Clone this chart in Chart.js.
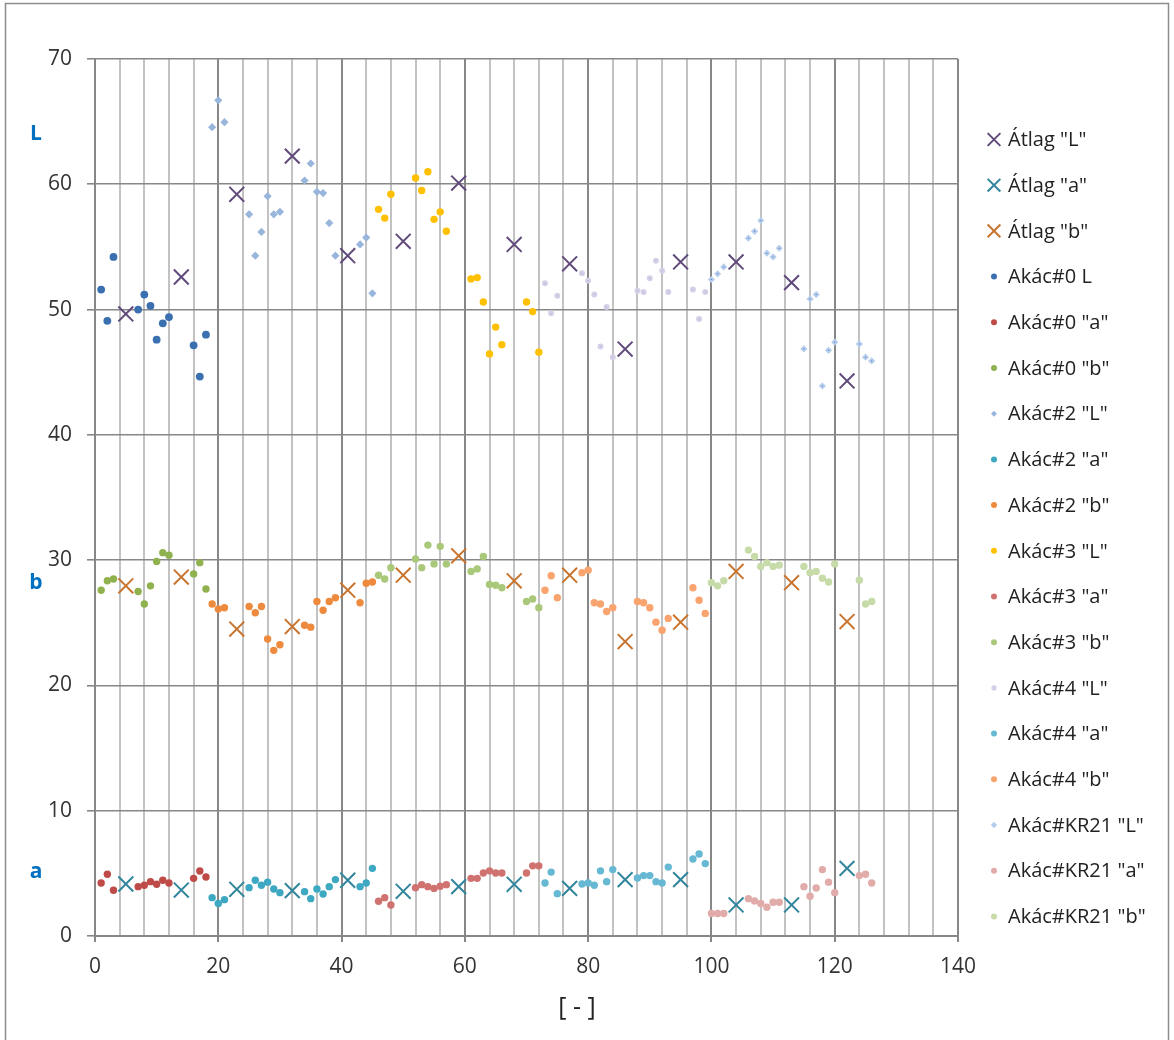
<!DOCTYPE html>
<html>
<head>
<meta charset="utf-8">
<script src="https://cdn.jsdelivr.net/npm/chart.js@4.4.1/dist/chart.umd.min.js"></script>
<style>
  html, body { margin: 0; padding: 0; background: #fff; }
  #graph { display: block; }
</style>
</head>
<body>
<canvas id="graph" width="1174" height="1040"></canvas>
<script>
// x positions (sample index) of each group
const xAtlag = [5, 14, 23, 32, 41, 50, 59, 68, 77, 86, 95, 104, 113, 122];
const xAkac0 = [1, 2, 3, 7, 8, 9, 10, 11, 12, 16, 17, 18];
const xAkac2 = [19, 20, 21, 25, 26, 27, 28, 29, 30, 34, 35, 36, 37, 38, 39, 43, 44, 45];
const xAkac3 = [46, 47, 48, 52, 53, 54, 55, 56, 57, 61, 62, 63, 64, 65, 66, 70, 71, 72];
const xAkac4 = [73, 74, 75, 79, 80, 81, 82, 83, 84, 88, 89, 90, 91, 92, 93, 97, 98, 99];
const xKR21  = [100, 101, 102, 106, 107, 108, 109, 110, 111, 115, 116, 117, 118, 119, 120, 124, 125, 126];

// averages
const atlagL = [49.65, 52.6, 59.2, 62.25, 54.3, 55.45, 60.1, 55.2, 53.65, 46.85, 53.8, 53.8, 52.15, 44.3];
const atlagA = [4.15, 3.67, 3.73, 3.62, 4.45, 3.57, 3.94, 4.13, 3.8, 4.5, 4.5, 2.48, 2.48, 5.4];
const atlagB = [27.95, 28.65, 24.5, 24.7, 27.6, 28.8, 30.35, 28.35, 28.8, 23.5, 25.05, 29.1, 28.2, 25.1];

// Akác#0
const akac0L = [51.6, 49.1, 54.2, 50.0, 51.2, 50.3, 47.6, 48.9, 49.4, 47.15, 44.65, 48.0];
const akac0A = [4.23, 4.93, 3.65, 3.94, 4.05, 4.34, 4.13, 4.45, 4.23, 4.6, 5.19, 4.71];
const akac0B = [27.6, 28.35, 28.5, 27.5, 26.5, 27.95, 29.9, 30.6, 30.4, 28.9, 29.8, 27.7];

// Akác#2
const akac2L = [64.56, 66.7, 64.96, 57.6, 54.3, 56.2, 59.05, 57.6, 57.8, 60.3, 61.66, 59.4, 59.3, 56.9, 54.3, 55.2, 55.75, 51.3];
const akac2A = [3.06, 2.6, 2.9, 3.86, 4.45, 4.05, 4.3, 3.75, 3.46, 3.54, 2.98, 3.75, 3.35, 3.94, 4.5, 3.94, 4.23, 5.4];
const akac2B = [26.5, 26.1, 26.2, 26.3, 25.8, 26.3, 23.7, 22.8, 23.25, 24.8, 24.65, 26.7, 26.0, 26.7, 27.0, 26.6, 28.15, 28.25];

// Akác#3
const akac3L = [58.0, 57.3, 59.2, 60.5, 59.5, 61.0, 57.2, 57.8, 56.25, 52.45, 52.55, 50.6, 46.46, 48.6, 47.2, 50.6, 49.84, 46.6];
const akac3A = [2.77, 3.06, 2.48, 3.86, 4.1, 3.94, 3.8, 3.97, 4.1, 4.6, 4.6, 5.03, 5.2, 5.03, 5.03, 5.03, 5.6, 5.6];
const akac3B = [28.8, 28.5, 29.4, 30.1, 29.4, 31.2, 29.7, 31.1, 29.7, 29.1, 29.3, 30.3, 28.06, 28.0, 27.8, 26.7, 26.9, 26.2];

// Akác#4
const akac4L = [52.1, 49.7, 51.1, 52.9, 52.3, 51.2, 47.05, 50.2, 46.2, 51.5, 51.4, 52.5, 53.9, 53.1, 51.4, 51.6, 49.25, 51.4];
const akac4A = [4.23, 5.1, 3.38, 4.15, 4.23, 4.05, 5.2, 4.34, 5.3, 4.63, 4.82, 4.82, 4.34, 4.23, 5.5, 6.15, 6.55, 5.78];
const akac4B = [27.6, 28.75, 27.0, 29.0, 29.2, 26.6, 26.5, 25.9, 26.2, 26.7, 26.6, 26.2, 25.05, 24.4, 25.35, 27.8, 26.8, 25.75];

// Akác#KR21
const kr21L = [52.4, 52.85, 53.4, 55.7, 56.25, 57.1, 54.5, 54.2, 54.9, 46.86, 50.85, 51.2, 43.9, 46.75, 47.4, 47.25, 46.2, 45.9];
const kr21A = [1.8, 1.8, 1.8, 2.98, 2.8, 2.6, 2.29, 2.69, 2.69, 3.94, 3.17, 3.83, 5.3, 4.3, 3.46, 4.82, 4.93, 4.23];
const kr21B = [28.2, 27.95, 28.35, 30.8, 30.3, 29.5, 29.8, 29.5, 29.6, 29.5, 29.0, 29.1, 28.55, 28.25, 29.7, 28.4, 26.5, 26.7];

// axis tags on the left side (text, y value)
const sideTags = [['L', 64], ['b', 28.2], ['a', 5.1]];
const xTitle = '[ - ]';

const FONT = '"Open Sans", "Noto Sans", sans-serif';

function pts(xs, ys) {
  return xs.map((x, i) => ({ x: x, y: ys[i] }));
}

function cross(label, xs, ys, color) {
  return {
    label: label, data: pts(xs, ys),
    pointStyle: 'crossRot', pointRadius: 10.5, pointBorderWidth: 2,
    borderColor: color, backgroundColor: color,
    legendRadius: 9
  };
}

function dot(label, xs, ys, color, radius, style, ring, ringWidth) {
  return {
    label: label, data: pts(xs, ys),
    pointStyle: style || 'circle', pointRadius: radius,
    pointBorderWidth: ring ? ringWidth : 0,
    backgroundColor: color, borderColor: ring || color,
    legendRadius: ring ? radius * 0.8 : 3
  };
}

const datasets = [
  cross('Átlag "L"', xAtlag, atlagL, '#604A7B'),
  cross('Átlag "a"', xAtlag, atlagA, '#31859C'),
  cross('Átlag "b"', xAtlag, atlagB, '#C8742E'),
  dot('Akác#0 L', xAkac0, akac0L, '#3A6FB0', 3.9),
  dot('Akác#0 "a"', xAkac0, akac0A, '#BE4B48', 3.7),
  dot('Akác#0 "b"', xAkac0, akac0B, '#8FB24F', 3.7),
  dot('Akác#2 "L"', xAkac2, akac2L, '#98B6DC', 4.1, 'rectRot'),
  dot('Akác#2 "a"', xAkac2, akac2A, '#3DA8C2', 3.7),
  dot('Akác#2 "b"', xAkac2, akac2B, '#EE8A3E', 3.7),
  dot('Akác#3 "L"', xAkac3, akac3L, '#FFC000', 3.7),
  dot('Akác#3 "a"', xAkac3, akac3A, '#D07370', 3.7),
  dot('Akác#3 "b"', xAkac3, akac3B, '#A9C87A', 3.7),
  dot('Akác#4 "L"', xAkac4, akac4L, '#7B68A2', 1.7, 'circle', '#D6CFE8', 2.6),
  dot('Akác#4 "a"', xAkac4, akac4A, '#66B8D3', 3.7),
  dot('Akác#4 "b"', xAkac4, akac4B, '#F9A36E', 3.7),
  dot('Akác#KR21 "L"', xKR21, kr21L, '#4D86CF', 2.2, 'rectRot', '#B7CDEB', 2),
  dot('Akác#KR21 "a"', xKR21, kr21A, '#E1ABAA', 3.7),
  dot('Akác#KR21 "b"', xKR21, kr21B, '#C6DBA8', 3.7)
];

// frame, side tags, x title and legend drawn on the canvas
const extras = {
  id: 'extras',
  beforeDraw(chart) {
    const ctx = chart.ctx;
    ctx.save();
    ctx.fillStyle = '#fff';
    ctx.fillRect(0, 0, chart.width, chart.height);
    ctx.strokeStyle = '#8c8c8c';
    ctx.lineWidth = 1.5;
    ctx.strokeRect(5.5, 3.5, chart.width - 11, chart.height + 10);
    ctx.restore();
  },
  afterDraw(chart) {
    const ctx = chart.ctx;
    const y = chart.scales.y;
    ctx.save();
    ctx.fillStyle = '#0070C0';
    ctx.font = 'bold 21px ' + FONT;
    ctx.textAlign = 'center';
    ctx.textBaseline = 'middle';
    sideTags.forEach(t => ctx.fillText(t[0], 36, y.getPixelForValue(t[1])));

    ctx.fillStyle = '#222';
    ctx.font = '25px ' + FONT;
    ctx.fillText(xTitle, 577, 1008);

    // legend
    const lx = 994, tx = 1008, top = 139.5, step = 45.7;
    ctx.font = '20px ' + FONT;
    ctx.textAlign = 'left';
    chart.data.datasets.forEach((ds, i) => {
      const cy = top + i * step;
      ctx.fillStyle = ds.backgroundColor;
      ctx.strokeStyle = ds.borderColor;
      ctx.lineWidth = ds.pointStyle === 'crossRot' ? 2 : (ds.pointBorderWidth || 0.01);
      Chart.helpers.drawPoint(ctx, {
        pointStyle: ds.pointStyle,
        radius: ds.legendRadius,
        rotation: 0,
        borderWidth: ctx.lineWidth
      }, lx, cy);
      ctx.fillStyle = '#222';
      ctx.fillText(ds.label, tx, cy + 1);
    });
    ctx.restore();
  }
};

const ctx = document.getElementById('graph').getContext('2d');
const chart = new Chart(ctx, {
  type: 'scatter',
  data: { datasets: datasets },
  plugins: [extras],
  options: {
    responsive: false,
    animation: false,
    events: [],
    layout: { padding: { left: 0, top: 59, right: 216, bottom: 44 } },
    plugins: { legend: { display: false }, tooltip: { enabled: false } },
    scales: {
      x: {
        type: 'linear', min: 0, max: 140,
        afterFit: s => { s.height = 60; },
        ticks: {
          stepSize: 4, autoSkip: false, maxRotation: 0, padding: 12,
          color: '#333', font: { family: FONT, size: 21 },
          callback: v => (v % 20 === 0 ? v : '')
        },
        grid: {
          lineWidth: 2, tickLength: 6,
          color: c => (c.tick && c.tick.value % 20 === 0 ? '#878787' : '#C2C2C2'),
          tickColor: c => (c.tick && c.tick.value % 20 === 0 ? '#878787' : 'rgba(0,0,0,0)')
        },
        border: { display: true, color: '#878787', width: 2 }
      },
      y: {
        min: 0, max: 70,
        afterFit: s => { s.width = 95; },
        ticks: { stepSize: 10, padding: 15, color: '#333', font: { family: FONT, size: 21 } },
        grid: { lineWidth: 1.6, tickLength: 8, color: '#878787', tickColor: '#878787' },
        border: { display: true, color: '#878787', width: 2 }
      }
    }
  }
});
</script>
</body>
</html>
